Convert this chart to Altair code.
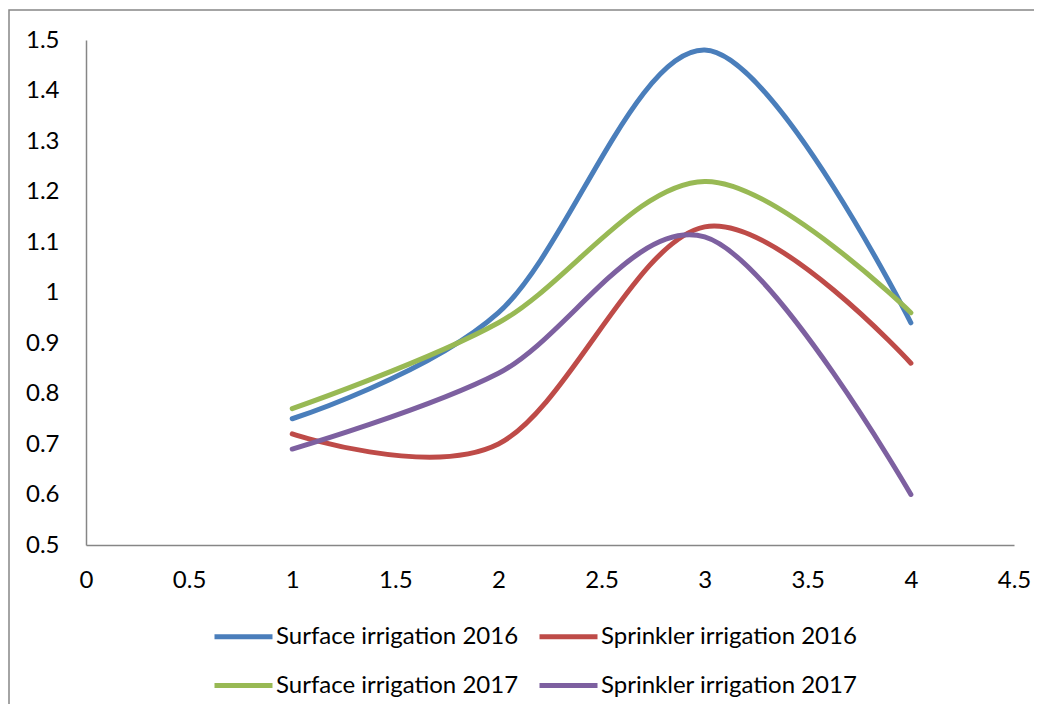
import altair as alt
import pandas as pd

x_vals = [1, 2, 3, 4]
surface_2016 = [0.75, 0.96, 1.48, 0.94]
sprinkler_2016 = [0.72, 0.70, 1.13, 0.86]
surface_2017 = [0.77, 0.94, 1.22, 0.96]
sprinkler_2017 = [0.69, 0.84, 1.11, 0.60]

series_names = ["Surface irrigation 2016", "Sprinkler irrigation 2016",
                "Surface irrigation 2017", "Sprinkler irrigation 2017"]
series_colors = ["#4A7EBB", "#BE4B48", "#98B954", "#7D60A0"]
x_ticks = [0, 0.5, 1, 1.5, 2, 2.5, 3, 3.5, 4, 4.5]
y_ticks = [0.5, 0.6, 0.7, 0.8, 0.9, 1.0, 1.1, 1.2, 1.3, 1.4, 1.5]

rows = []
for name, vals in zip(series_names, [surface_2016, sprinkler_2016, surface_2017, sprinkler_2017]):
    for i, (xv, yv) in enumerate(zip(x_vals, vals)):
        rows.append({"series": name, "x": xv, "y": yv, "order": i})
df = pd.DataFrame(rows)

FONT = "Lato"
FS = 24
GREY = "#868686"

frame = alt.Chart(pd.DataFrame({"a": [0]})).mark_rect(
    filled=False, stroke=GREY, strokeWidth=1.5
).encode(
    x=alt.value(-77), x2=alt.value(1100), y=alt.value(-30), y2=alt.value(800)
)

lines = alt.Chart(df).mark_line(
    interpolate="cardinal", strokeWidth=5, strokeCap="round"
).encode(
    x=alt.X("x:Q", scale=alt.Scale(domain=[0, 4.5], nice=False, zero=False),
            axis=alt.Axis(values=x_ticks, format="~g", title=None, grid=False,
                          ticks=False, labelPadding=23, domainColor=GREY,
                          domainWidth=1.5, labelFont=FONT, labelFontSize=FS,
                          labelColor="black", labelFlush=False)),
    y=alt.Y("y:Q", scale=alt.Scale(domain=[0.5, 1.5], nice=False, zero=False),
            axis=alt.Axis(values=y_ticks, format="~g", title=None, grid=False,
                          ticks=False, labelPadding=27, domainColor=GREY,
                          domainWidth=1.5, labelFont=FONT, labelFontSize=FS,
                          labelColor="black", labelFlush=False)),
    color=alt.Color("series:N",
                    scale=alt.Scale(domain=series_names, range=series_colors),
                    legend=alt.Legend(title=None, orient="none", legendX=126, legendY=565,
                                      direction="horizontal",
                                      columns=2, symbolType="stroke", symbolSize=3364,
                                      symbolStrokeWidth=5, labelFont=FONT, labelFontSize=FS,
                                      labelColor="black", labelLimit=400, labelOffset=1,
                                      columnPadding=10, rowPadding=5)),
    order="order:Q",
)

chart = alt.layer(frame, lines).properties(
    width=928, height=505,
    autosize=alt.AutoSizeParams(type="none"),
    padding={"left": 78, "top": 32, "right": 20, "bottom": 159},
).configure_view(stroke=None)

chart.save("out.html", embed_options={"renderer": "svg", "actions": False})
